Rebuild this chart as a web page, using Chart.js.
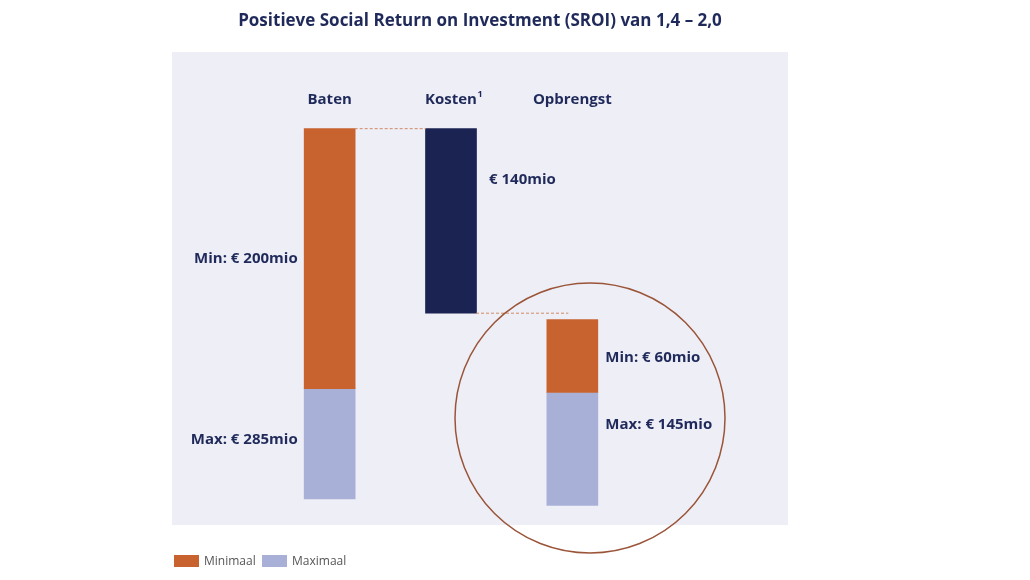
<!DOCTYPE html>
<html><head><meta charset="utf-8">
<script src="https://cdn.jsdelivr.net/npm/chart.js@4"></script>
<style>html,body{margin:0;padding:0;background:#fff}#w{width:1030px;height:580px;position:relative}</style>
</head><body><div id="w"><canvas id="c" width="1030" height="580"></canvas></div>
<script>
const categories = ['Baten', 'Kosten', 'Opbrengst'];
const minimaal = [[85, 285], null, [82, 138]];
const maximaal = [[0, 85], null, [-5, 82]];
const kosten = [null, [143, 285], null];
const valueLabels = ['Min: € 200mio', 'Max: € 285mio', '€ 140mio', 'Min: € 60mio', 'Max: € 145mio'];
const seriesNames = ['Minimaal', 'Maximaal'];

const ORANGE = '#c8622f', LAV = '#a9b0d8', NAVY = '#1b2352', TXT = '#1f2a5a';
const F = '"Open Sans", "Noto Sans", sans-serif';

const deco = {
  id: 'deco',
  beforeDraw(ch) {
    const c = ch.ctx;
    c.save();
    c.fillStyle = '#fff'; c.fillRect(0, 0, ch.width, ch.height);
    c.fillStyle = '#eeeef6'; c.fillRect(172, 52, 616, 473);
    c.restore();
  },
  afterDatasetsDraw(ch) {
    const c = ch.ctx, x = ch.scales.x, y = ch.scales.y;
    c.save();
    c.fillStyle = TXT; c.font = 'bold 17px ' + F; c.textAlign = 'center'; c.textBaseline = 'middle';
    c.fillText('Positieve Social Return on Investment (SROI) van 1,4 – 2,0', 480, 21);
    c.font = 'bold 15px ' + F;
    categories.forEach((k, i) => {
      const px = x.getPixelForValue(i);
      c.fillText(k, px, 100);
      if (k === 'Kosten') { c.font = 'bold 9px ' + F; c.fillText('1', px + 29, 94); c.font = 'bold 15px ' + F; }
    });
    c.strokeStyle = '#d08a66'; c.lineWidth = 1; c.setLineDash([3, 2]);
    c.beginPath();
    c.moveTo(x.getPixelForValue(0) + 25, y.getPixelForValue(285)); c.lineTo(x.getPixelForValue(1) - 25, y.getPixelForValue(285));
    c.moveTo(x.getPixelForValue(1) + 25, y.getPixelForValue(143)); c.lineTo(x.getPixelForValue(2) - 4, y.getPixelForValue(143));
    c.stroke(); c.setLineDash([]);
    c.fillStyle = TXT; c.font = 'bold 15px ' + F;
    c.textAlign = 'right';
    c.fillText(valueLabels[0], x.getPixelForValue(0) - 32, y.getPixelForValue(185));
    c.fillText(valueLabels[1], x.getPixelForValue(0) - 32, y.getPixelForValue(46));
    c.textAlign = 'left';
    c.fillText(valueLabels[2], x.getPixelForValue(1) + 38, y.getPixelForValue(246));
    c.fillText(valueLabels[3], x.getPixelForValue(2) + 33, y.getPixelForValue(109));
    c.fillText(valueLabels[4], x.getPixelForValue(2) + 33, y.getPixelForValue(57));
    c.strokeStyle = '#9a5438'; c.lineWidth = 1.5;
    c.beginPath(); c.arc(590, 418, 135, 0, Math.PI * 2); c.stroke();
    c.font = '12px ' + F; c.textBaseline = 'middle';
    [[ORANGE, 174], [LAV, 262]].forEach(([col, lx], i) => {
      c.fillStyle = col; c.fillRect(lx, 555, 25, 12);
      c.fillStyle = '#555'; c.fillText(seriesNames[i], lx + 30, 562);
    });
    c.restore();
  }
};

new Chart(document.getElementById('c'), {
  type: 'bar',
  data: {
    labels: categories,
    datasets: [
      { label: seriesNames[0], data: minimaal, backgroundColor: ORANGE, barThickness: 51, grouped: false },
      { label: seriesNames[1], data: maximaal, backgroundColor: LAV, barThickness: 51, grouped: false },
      { label: 'Kosten', data: kosten, backgroundColor: NAVY, barThickness: 51, grouped: false }
    ]
  },
  options: {
    responsive: false, animation: false, devicePixelRatio: 1,
    layout: { padding: { left: 269, right: 397, top: 52, bottom: 55 } },
    plugins: { legend: { display: false }, tooltip: { enabled: false } },
    scales: {
      x: { display: false, offset: true },
      y: { display: false, min: -20, max: 344 }
    }
  },
  plugins: [deco]
});
</script>
</body></html>
